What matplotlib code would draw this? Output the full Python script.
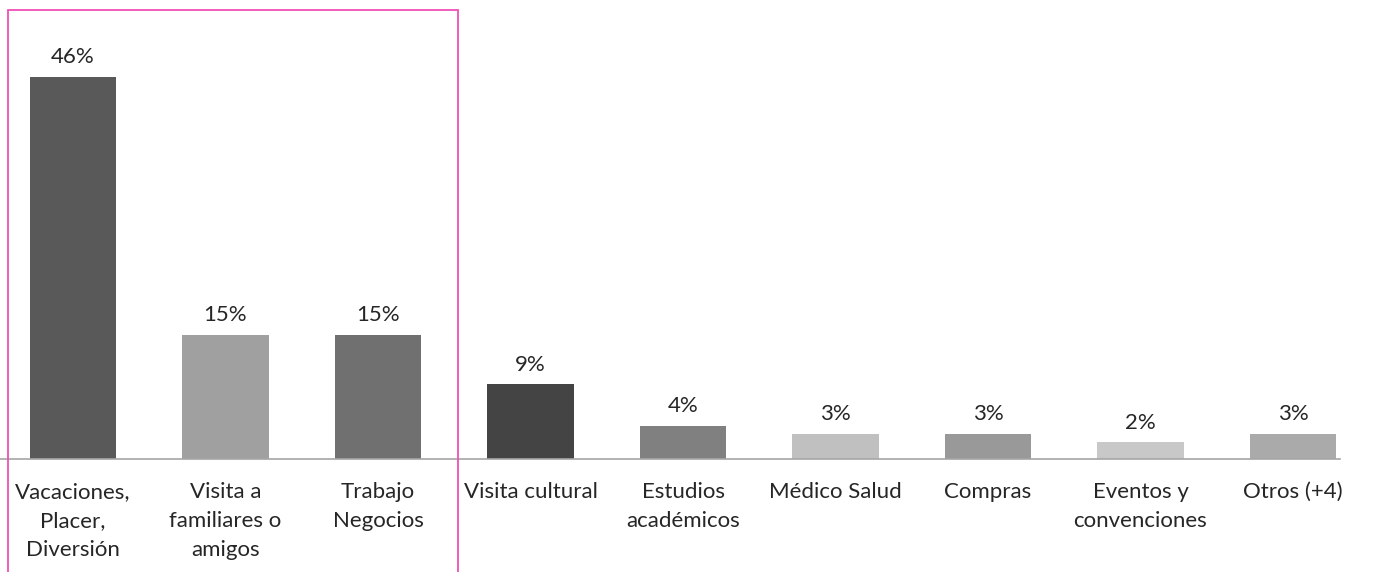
import matplotlib.pyplot as plt
from matplotlib.patches import Rectangle

# motivo del viaje, porcentaje de visitantes
categorias = ['Vacaciones,\nPlacer,\nDiversión', 'Visita a\nfamiliares o\namigos',
              'Trabajo\nNegocios', 'Visita cultural', 'Estudios\nacadémicos',
              'Médico Salud', 'Compras', 'Eventos y\nconvenciones', 'Otros (+4)']
porcentajes = [46, 15, 15, 9, 4, 3, 3, 2, 3]
colores = ['#595959', '#a0a0a0', '#707070', '#444444', '#808080',
           '#c0c0c0', '#999999', '#c8c8c8', '#aaaaaa']

plt.rcParams['font.family'] = ['Lato', 'DejaVu Sans']

W, H = 1376, 572
fig = plt.figure(figsize=(W / 100, H / 100), dpi=100)

# eje: linea base a 459 px desde arriba, termina en x=1340
ax = fig.add_axes([0, (H - 459) / H, 1340 / W, 415 / H])
x = range(len(categorias))
ax.bar(x, porcentajes, width=0.565, color=colores, zorder=2)
ax.set_xlim(-73 / 152.5, (1340 - 73) / 152.5)
ax.set_ylim(0, 50)

for i, v in enumerate(porcentajes):
    ax.annotate(f'{v}%', (i, v), xytext=(0, 7), textcoords='offset points',
                ha='center', va='bottom', fontsize=16, color='#262626')

ax.set_xticks(list(x))
ax.set_xticklabels(categorias, fontsize=16, color='#262626',
                   multialignment='center', linespacing=1.58)
ax.tick_params(axis='x', length=0, pad=16.5)
ax.set_yticks([])
for s in ['top', 'left', 'right']:
    ax.spines[s].set_visible(False)
ax.spines['bottom'].set_color('#a6a6a6')
ax.spines['bottom'].set_linewidth(1.2)

# recuadro rosa alrededor de los tres primeros motivos
fig.patches.append(Rectangle((8 / W, -0.05), 450 / W, (H - 10) / H + 0.05,
                             transform=fig.transFigure, fill=False,
                             edgecolor='#f050b4', linewidth=1.3))

fig.savefig('out.png', dpi=100, facecolor='white')
